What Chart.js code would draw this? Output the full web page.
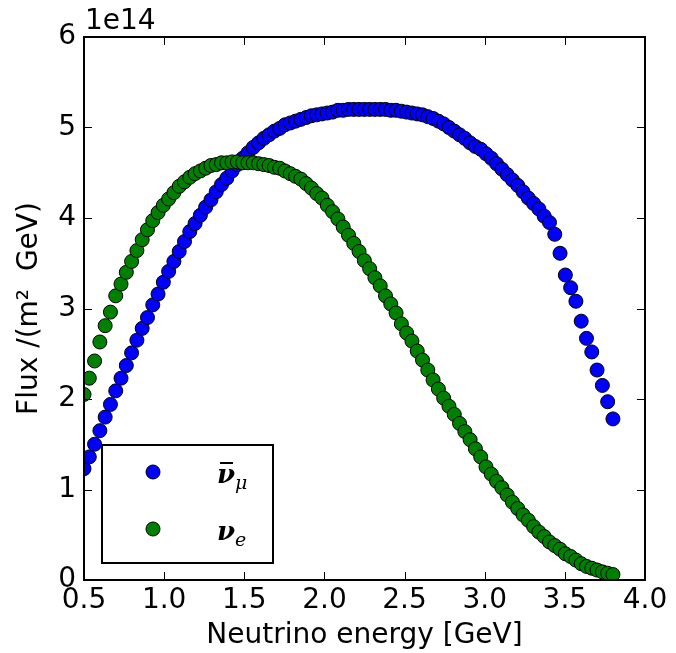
<!DOCTYPE html>
<html>
<head>
<meta charset="utf-8">
<script src="https://cdn.jsdelivr.net/npm/chart.js@4.4.1/dist/chart.umd.min.js"></script>
<style>
    html, body { margin: 0; padding: 0; background: #fff; }
    #fluxChart { display: block; }
</style>
</head>
<body>
<canvas id="fluxChart" width="676" height="653"></canvas>
<script>
// Neutrino energy in GeV
const energy = [
    0.500, 0.533, 0.566, 0.599, 0.632, 0.665, 0.698, 0.731, 0.764, 0.797,
    0.830, 0.863, 0.896, 0.929, 0.962, 0.995, 1.028, 1.061, 1.094, 1.127,
    1.160, 1.193, 1.226, 1.259, 1.292, 1.325, 1.358, 1.391, 1.424, 1.457,
    1.490, 1.523, 1.556, 1.589, 1.622, 1.655, 1.688, 1.721, 1.754, 1.787,
    1.820, 1.853, 1.886, 1.919, 1.952, 1.985, 2.018, 2.051, 2.084, 2.117,
    2.150, 2.183, 2.216, 2.249, 2.282, 2.315, 2.348, 2.381, 2.414, 2.447,
    2.480, 2.513, 2.546, 2.579, 2.612, 2.645, 2.678, 2.711, 2.744, 2.777,
    2.810, 2.843, 2.876, 2.909, 2.942, 2.975, 3.008, 3.041, 3.074, 3.107,
    3.140, 3.173, 3.206, 3.239, 3.272, 3.305, 3.338, 3.371, 3.404, 3.437,
    3.470, 3.503, 3.536, 3.569, 3.602, 3.635, 3.668, 3.701, 3.734, 3.767,
    3.800
];

// Flux in units of 1e14 /(m^2 GeV)
const fluxAntiNuMu = [
    1.23, 1.36, 1.50, 1.65, 1.80, 1.94, 2.09, 2.23, 2.37, 2.51,
    2.65, 2.78, 2.90, 3.04, 3.16, 3.29, 3.41, 3.52, 3.63, 3.74,
    3.85, 3.94, 4.03, 4.12, 4.20, 4.29, 4.37, 4.44, 4.52, 4.59,
    4.66, 4.72, 4.78, 4.83, 4.88, 4.92, 4.96, 4.99, 5.03, 5.05,
    5.07, 5.09, 5.11, 5.13, 5.14, 5.15, 5.16, 5.17, 5.19, 5.19,
    5.20, 5.20, 5.20, 5.20, 5.20, 5.20, 5.20, 5.20, 5.19, 5.19,
    5.18, 5.17, 5.16, 5.15, 5.14, 5.12, 5.10, 5.07, 5.04, 5.00,
    4.96, 4.92, 4.88, 4.83, 4.79, 4.76, 4.71, 4.66, 4.60, 4.54,
    4.48, 4.42, 4.36, 4.29, 4.22, 4.16, 4.10, 4.02, 3.95, 3.82,
    3.61, 3.37, 3.23, 3.08, 2.86, 2.67, 2.52, 2.32, 2.15, 1.97,
    1.78
];

const fluxNuE = [
    2.05, 2.23, 2.42, 2.63, 2.81, 2.96, 3.14, 3.27, 3.40, 3.52,
    3.64, 3.76, 3.87, 3.97, 4.06, 4.14, 4.21, 4.28, 4.35, 4.40,
    4.45, 4.49, 4.52, 4.55, 4.58, 4.59, 4.61, 4.61, 4.62, 4.62,
    4.61, 4.61, 4.61, 4.60, 4.59, 4.58, 4.56, 4.55, 4.52, 4.49,
    4.46, 4.43, 4.38, 4.33, 4.27, 4.22, 4.14, 4.07, 3.99, 3.90,
    3.81, 3.72, 3.63, 3.53, 3.44, 3.34, 3.25, 3.14, 3.05, 2.95,
    2.83, 2.73, 2.64, 2.53, 2.43, 2.32, 2.21, 2.11, 2.01, 1.92,
    1.83, 1.73, 1.64, 1.55, 1.45, 1.36, 1.25, 1.17, 1.09, 1.02,
    0.94, 0.86, 0.79, 0.72, 0.66, 0.59, 0.53, 0.48, 0.42, 0.38,
    0.34, 0.29, 0.26, 0.22, 0.18, 0.15, 0.13, 0.11, 0.09, 0.075,
    0.06
];

const seriesColors = ['#0000ff', '#008000'];

const toPoints = (ys) => energy.map((e, i) => ({ x: e, y: ys[i] }));

const sansFont = '"DejaVu Sans", sans-serif';
const mathFont = '"DejaVu Serif", serif';

// matplotlib-style frame, inward ticks on all sides, legend and offset text
const framePlugin = {
    id: 'framePlugin',
    afterDatasetsDraw(chart) {
        const { ctx, chartArea: a, scales } = chart;
        ctx.save();

        // inward ticks
        ctx.strokeStyle = '#000';
        ctx.lineWidth = 1;
        const tickLen = 8;
        scales.x.ticks.forEach(t => {
            const px = Math.round(scales.x.getPixelForValue(t.value)) + 0.5;
            ctx.beginPath();
            ctx.moveTo(px, a.bottom); ctx.lineTo(px, a.bottom - tickLen);
            ctx.moveTo(px, a.top); ctx.lineTo(px, a.top + tickLen);
            ctx.stroke();
        });
        scales.y.ticks.forEach(t => {
            const py = Math.round(scales.y.getPixelForValue(t.value)) + 0.5;
            ctx.beginPath();
            ctx.moveTo(a.left, py); ctx.lineTo(a.left + tickLen, py);
            ctx.moveTo(a.right, py); ctx.lineTo(a.right - tickLen, py);
            ctx.stroke();
        });

        // frame
        ctx.lineWidth = 2;
        ctx.strokeRect(a.left, a.top, a.right - a.left, a.bottom - a.top);

        // offset text
        ctx.fillStyle = '#000';
        ctx.font = '28px ' + sansFont;
        ctx.textAlign = 'left';
        ctx.textBaseline = 'alphabetic';
        ctx.fillText('1e14', a.left + 1, a.top - 8);

        // legend box
        const box = { x: 102, y: 445, w: 171, h: 118 };
        ctx.fillStyle = '#fff';
        ctx.fillRect(box.x, box.y, box.w, box.h);
        ctx.lineWidth = 2;
        ctx.strokeRect(box.x, box.y, box.w, box.h);

        const rows = [
            { cy: 472, sub: '\u03bc', bar: true },
            { cy: 529, sub: 'e', bar: false }
        ];
        rows.forEach((r, i) => {
            ctx.beginPath();
            ctx.arc(153, r.cy, 7, 0, Math.PI * 2);
            ctx.fillStyle = seriesColors[i];
            ctx.fill();
            ctx.lineWidth = 1;
            ctx.strokeStyle = '#000';
            ctx.stroke();

            const base = r.cy + 11;
            ctx.fillStyle = '#000';
            ctx.textAlign = 'left';
            ctx.textBaseline = 'alphabetic';
            ctx.font = 'italic bold 26px ' + mathFont;
            ctx.fillText('\u03bd', 217, base);
            if (r.bar) {
                ctx.lineWidth = 2;
                ctx.beginPath();
                ctx.moveTo(220, base - 20);
                ctx.lineTo(233, base - 20);
                ctx.stroke();
            }
            ctx.font = 'italic 19px ' + mathFont;
            ctx.fillText(r.sub, 235, base + 6);
        });

        ctx.restore();
    }
};

const ctx = document.getElementById('fluxChart').getContext('2d');

new Chart(ctx, {
    type: 'scatter',
    data: {
        datasets: [
            {
                label: '\u03bd\u0304\u03bc',
                data: toPoints(fluxAntiNuMu),
                backgroundColor: seriesColors[0],
                borderColor: '#000',
                borderWidth: 1,
                pointRadius: 7,
                pointHoverRadius: 7,
                clip: 0,
                order: 1
            },
            {
                label: '\u03bde',
                data: toPoints(fluxNuE),
                backgroundColor: seriesColors[1],
                borderColor: '#000',
                borderWidth: 1,
                pointRadius: 7,
                pointHoverRadius: 7,
                clip: 0,
                order: 0
            }
        ]
    },
    options: {
        responsive: false,
        animation: false,
        devicePixelRatio: 1,
        layout: { padding: { top: 37, right: 31, left: 0, bottom: 0 } },
        plugins: {
            legend: { display: false },
            tooltip: { enabled: false }
        },
        scales: {
            x: {
                type: 'linear',
                min: 0.5,
                max: 4.0,
                grid: { display: false, drawTicks: false },
                border: { display: false },
                ticks: {
                    stepSize: 0.5,
                    padding: 4,
                    color: '#000',
                    font: { family: sansFont, size: 28 },
                    callback: v => v.toFixed(1)
                },
                title: {
                    display: true,
                    text: 'Neutrino energy [GeV]',
                    color: '#000',
                    font: { family: sansFont, size: 28 },
                    padding: { top: 0, bottom: 0 }
                },
                afterFit: s => { s.height = 73; }
            },
            y: {
                min: 0,
                max: 6,
                grid: { display: false, drawTicks: false },
                border: { display: false },
                ticks: {
                    stepSize: 1,
                    padding: 8,
                    color: '#000',
                    font: { family: sansFont, size: 28 },
                    callback: v => String(v)
                },
                title: {
                    display: true,
                    text: 'Flux /(m\u00b2  GeV)',
                    color: '#000',
                    font: { family: sansFont, size: 28 },
                    padding: { top: 13, bottom: 0 }
                },
                afterFit: s => { s.width = 84; }
            }
        }
    },
    plugins: [framePlugin]
});
</script>
</body>
</html>
